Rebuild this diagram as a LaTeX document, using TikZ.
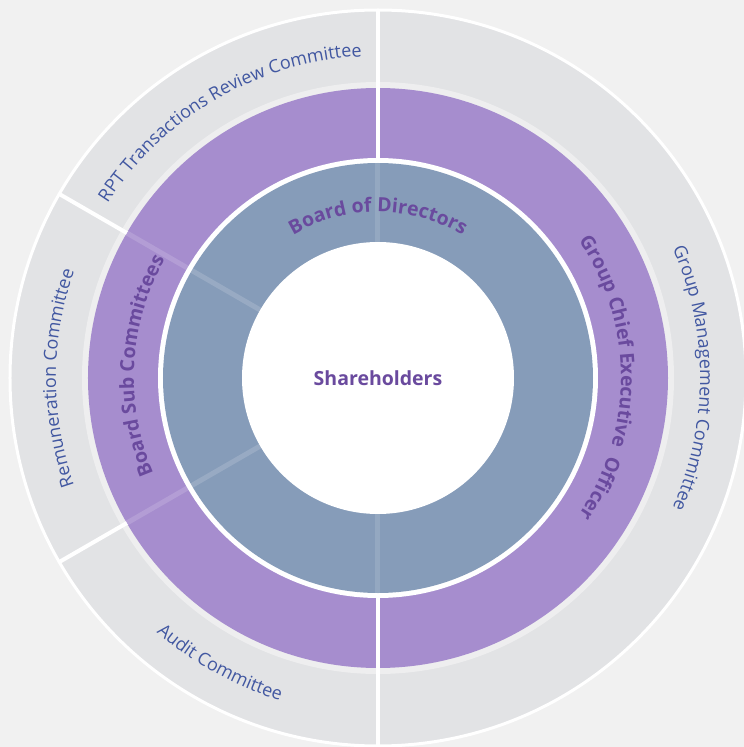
\documentclass[tikz,border=0pt]{standalone}
\usepackage{fontspec}
\setmainfont{Open Sans}
\usetikzlibrary{decorations.text}

\begin{document}
\begin{tikzpicture}[
    % text set along a circular arc
    ringlabel/.style={decorate, decoration={text along path, text align=center, text={#1}}}
    ]
    
    % Radii
    \def\rCore{136pt}
    \def\rBoardOut{215pt}
    \def\rPurpleIn{220pt}
    \def\rPurpleOut{290pt}
    \def\rGrayIn{296pt}
    \def\rGrayOut{368pt}
    \def\rText{322pt}
    
    % Colors
    \definecolor{pageColor}{HTML}{F1F1F1}
    \definecolor{ringGray}{HTML}{E2E3E5}
    \definecolor{bandGray}{HTML}{EEEEEF}
    \definecolor{ceoPurple}{HTML}{A68DCE}
    \definecolor{boardBlue}{HTML}{869CB9}
    \definecolor{titleColor}{HTML}{6A4A9E}
    \definecolor{labelColor}{HTML}{4157A1}
    
    % Label fonts
    \def\boldLabel{\fontsize{19.5}{20}\selectfont\bfseries\color{titleColor}}
    \def\thinLabel{\fontsize{18}{18}\selectfont\color{labelColor}}
    
    \useasboundingbox (-378pt,-369pt) rectangle (366pt,378pt);
    \fill[pageColor] (-378pt,-369pt) rectangle (366pt,378pt);
    
    % Committees ring
    \fill[ringGray] (0,0) circle (\rGrayOut);
    \draw[white, line width=3pt] (0,0) circle (\rGrayOut);
    \fill[bandGray] (0,0) circle (\rGrayIn);
    
    % CEO / sub committees ring and board ring
    \fill[ceoPurple] (0,0) circle (\rPurpleOut);
    \fill[white] (0,0) circle (\rPurpleIn);
    \fill[boardBlue] (0,0) circle (\rBoardOut);
    
    % Faint seams
    \foreach \a in {150,210}
        \draw[white, opacity=0.15, line width=5pt] (\a:\rCore) -- (\a:\rPurpleOut);
    \foreach \a in {90,270}
        \draw[white, opacity=0.12, line width=5pt] (\a:\rCore) -- (\a:\rBoardOut);
    
    % Dividers
    \foreach \a in {90,270}
        \draw[white, line width=4pt] (\a:\rPurpleIn) -- (\a:\rGrayOut);
    \foreach \a in {150,210}
        \draw[white, line width=4pt] (\a:\rPurpleOut) -- (\a:\rGrayOut);
    
    % Core
    \node[circle, fill=white, minimum size=2*\rCore, inner sep=0pt,
          font=\fontsize{19.5}{20}\selectfont\bfseries, text=titleColor] (core) at (0,0) {Shareholders};
    
    % Ring labels
    \path[ringlabel={|\boldLabel|Board of Directors}]
        (140:166pt) arc[start angle=140, end angle=40, radius=166pt];
    \path[ringlabel={|\boldLabel|Group Chief Executive {\ }Officer}]
        (55:243pt) arc[start angle=55, end angle=-55, radius=243pt];
    \path[ringlabel={|\boldLabel|Board Sub Committees}]
        (222:244pt) arc[start angle=222, end angle=132, radius=244pt];
    
    \path[ringlabel={|\thinLabel|RPT Transactions Review Committee}]
        (175:\rText) arc[start angle=175, end angle=65, radius=\rText];
    \path[ringlabel={|\thinLabel|Remuneration Committee}]
        (220:\rText) arc[start angle=220, end angle=140, radius=\rText];
    \path[ringlabel={|\thinLabel|Audit Committee}]
        (201:337pt) arc[start angle=201, end angle=281, radius=337pt];
    \path[ringlabel={|\thinLabel|Group Management Committee}]
        (50:\rText) arc[start angle=50, end angle=-50, radius=\rText];
\end{tikzpicture}
\end{document}
